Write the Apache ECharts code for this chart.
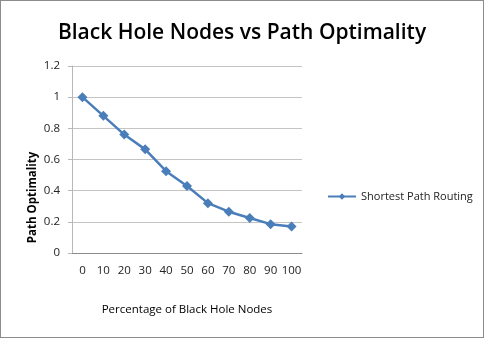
<!DOCTYPE html>
<html>
<head>
<meta charset="utf-8">
<script src="https://cdn.jsdelivr.net/npm/echarts@6/dist/echarts.min.js"></script>
<style>
  html, body { margin: 0; padding: 0; background: #fff; }
  #main { width: 482px; height: 336px; border: 1px solid #8c8c8c; }
</style>
</head>
<body>
<div id="main"></div>
<script>
var myChart = echarts.init(document.getElementById("main"));

const categories = ["0", "10", "20", "30", "40", "50", "60", "70", "80", "90", "100"];
const optimality = [1.0, 0.88, 0.76, 0.665, 0.525, 0.43, 0.32, 0.265, 0.225, 0.185, 0.17];
const seriesName = "Shortest Path Routing";

const font = "'Open Sans', 'Noto Sans', sans-serif";

option = {
  title: {
    text: "Black Hole Nodes vs Path Optimality",
    left: "center",
    top: 17,
    textStyle: { fontFamily: font, fontSize: 21, fontWeight: 600, color: "#000" },
  },
  legend: {
    data: [seriesName],
    orient: "vertical",
    left: 321,
    top: 185,
    itemWidth: 28,
    itemHeight: 8,
    itemGap: 0,
    textStyle: { fontFamily: font, fontSize: 11, color: "#222" },
  },
  grid: { left: 71, right: 181, top: 65, bottom: 84 },
  xAxis: {
    type: "category",
    data: categories,
    name: "Percentage of Black Hole Nodes",
    nameLocation: "middle",
    nameGap: 51,
    nameTextStyle: { fontFamily: font, fontSize: 11.5, color: "#000" },
    axisLine: { lineStyle: { color: "#8c8c8c" } },
    axisTick: { show: false },
    axisLabel: { fontFamily: font, fontSize: 11.5, color: "#222", margin: 12, interval: 0 },
  },
  yAxis: {
    type: "value",
    min: 0,
    max: 1.2,
    interval: 0.2,
    name: "Path Optimality",
    nameLocation: "middle",
    nameGap: 33,
    nameTextStyle: { fontFamily: font, fontSize: 11.5, fontWeight: "bold", color: "#000", padding: [0, 76, 0, 0] },
    axisLine: { show: true, lineStyle: { color: "#b8b8b8" } },
    axisTick: { show: true, length: 4, lineStyle: { color: "#b8b8b8" } },
    axisLabel: { fontFamily: font, fontSize: 11.5, color: "#222", margin: 12 },
    splitLine: { lineStyle: { color: "#c4c4c4" } },
  },
  series: [
    {
      name: seriesName,
      type: "line",
      data: optimality,
      symbol: "diamond",
      symbolSize: 10,
      color: "#4a7ebb",
      lineStyle: { width: 2.5, color: "#4a7ebb" },
      itemStyle: { color: "#4a7ebb" },
    },
  ],
};
myChart.setOption(option);
</script>
</body>
</html>
